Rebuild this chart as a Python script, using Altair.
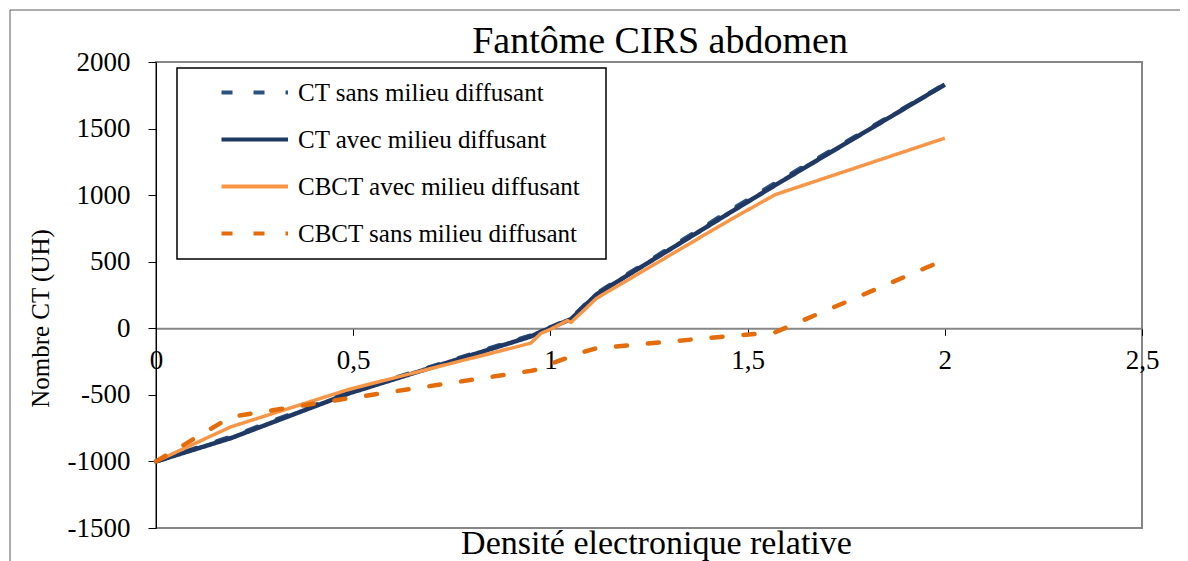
import altair as alt
import pandas as pd

# ---- data ----
x_vals = [0, 0.19, 0.49, 0.95, 0.976, 1.0, 1.043, 1.052, 1.117, 1.456, 1.57, 2.0]
series_names = [
    "CT sans milieu diffusant",
    "CT avec milieu diffusant",
    "CBCT avec milieu diffusant",
    "CBCT sans milieu diffusant",
]
ct_sans = [-1000, -815, -480, -55, -18, 8, 62, 72, 262, 885, 1090, 1832]
ct_avec = [-1000, -825, -488, -62, -25, 2, 58, 68, 255, 870, 1075, 1830]
cbct_avec = [-1000, -740, -458, -112, -38, -8, 58, 44, 225, 815, 1004, 1428]
cbct_sans = [-1000, -665, -525, -320, -305, -268, -222, -205, -150, -58, -30, 515]
x_ticks = [0, 0.5, 1, 1.5, 2, 2.5]
y_ticks = [-1500, -1000, -500, 0, 500, 1000, 1500, 2000]

colors = ["#2c5283", "#1f3864", "#f79646", "#e46c0a"]
dashes = [[11, 21], [1, 0], [1, 0], [11, 21]]
widths = [4.5, 4.5, 3.5, 4.5]

rows = []
for name, vals in zip(series_names, [ct_sans, ct_avec, cbct_avec, cbct_sans]):
    for xv, yv in zip(x_vals, vals):
        rows.append({"x": xv, "y": yv, "serie": name})
df = pd.DataFrame(rows)

W, H = 986, 466
Y_MIN, Y_MAX = -1500, 2000
FONT = "Liberation Serif"

legend = alt.Legend(
    title=None,
    orient="none",
    legendX=21,
    legendY=6,
    fillColor="white",
    strokeColor="black",
    padding=12,
    rowPadding=21,
    # short stroke symbol; the trailing move-to only widens the legend frame
    symbolType="M-1,0H8.5M51,0",
    symbolSize=196,
    symbolStrokeWidth=4,
    symbolOffset=27,
    labelOffset=57,
    labelFont=FONT,
    labelFontSize=25,
    labelColor="black",
    labelLimit=500,
)

x_enc = alt.X(
    "x:Q",
    scale=alt.Scale(domain=[0, 2.5], nice=False, zero=False),
    axis=alt.Axis(
        values=x_ticks,
        labelExpr="replace(format(datum.value, '~g'), '.', ',')",
        offset=-H * (0 - Y_MIN) / (Y_MAX - Y_MIN),
        domainColor="#868686",
        domainWidth=2,
        tickColor="black",
        tickSize=7,
        labelPadding=12,
        labelFont=FONT,
        labelFontSize=27,
        labelColor="black",
        labelFlush=False,
        labelOverlap=False,
        grid=False,
        title="Densité electronique relative",
        titleFont=FONT,
        titleFontSize=34,
        titleFontWeight="normal",
        titleColor="black",
        titleX=500,
        titleY=225,
        titleAlign="center",
        titleBaseline="alphabetic",
    ),
)
y_enc = alt.Y(
    "y:Q",
    scale=alt.Scale(domain=[Y_MIN, Y_MAX], nice=False, zero=False),
    axis=alt.Axis(
        values=y_ticks,
        labelExpr="datum.value < 0 ? '-' + format(-datum.value, 'd') : format(datum.value, 'd')",
        domainColor="black",
        domainWidth=1,
        tickColor="black",
        tickSize=8,
        labelPadding=18,
        labelFont=FONT,
        labelFontSize=27,
        labelColor="black",
        labelFlush=False,
        grid=False,
        title="Nombre CT (UH)",
        titleFont=FONT,
        titleFontSize=25,
        titleFontWeight="normal",
        titleColor="black",
        titleAngle=270,
        titleX=-116,
        titleY=256,
        titleAlign="center",
        titleBaseline="middle",
    ),
)
color_enc = alt.Color(
    "serie:N",
    scale=alt.Scale(domain=series_names, range=colors),
    sort=series_names,
    legend=legend,
)
dash_enc = alt.StrokeDash(
    "serie:N",
    scale=alt.Scale(domain=series_names, range=dashes),
    sort=series_names,
    legend=legend,
)

layers = []
for name, w, d in zip(series_names, widths, dashes):
    cap = "round" if d[1] != 0 else "butt"
    layers.append(
        alt.Chart(df)
        .transform_filter(alt.datum.serie == name)
        .mark_line(strokeWidth=w, strokeCap=cap, strokeJoin="round")
        .encode(x=x_enc, y=y_enc, color=color_enc, strokeDash=dash_enc)
    )

frame_df = pd.DataFrame({"f": [0]})
frame_left = alt.Chart(frame_df).mark_rule(color="#595959", strokeWidth=1).encode(
    x=alt.value(-146), y=alt.value(-52), y2=alt.value(H + 120)
)
frame_top = alt.Chart(frame_df).mark_rule(color="#595959", strokeWidth=1).encode(
    x=alt.value(-146), x2=alt.value(W + 60), y=alt.value(-52)
)

chart = (
    alt.layer(frame_left, frame_top, *layers)
    .properties(
        width=W,
        height=H,
        padding={"left": 148, "top": 54, "right": 38, "bottom": 50},
        autosize=alt.AutoSizeParams(type="none"),
        title=alt.Title(
            "Fantôme CIRS abdomen",
            font=FONT,
            fontSize=38,
            fontWeight="normal",
            color="black",
            anchor="middle",
            baseline="alphabetic",
            dx=11,
            dy=81,
            offset=0,
        ),
    )
    .configure_view(stroke="#868686", strokeWidth=2)
    .configure_legend(strokeWidth=1.5)
)

chart.save("out.html", embed_options={"renderer": "svg", "actions": False})
